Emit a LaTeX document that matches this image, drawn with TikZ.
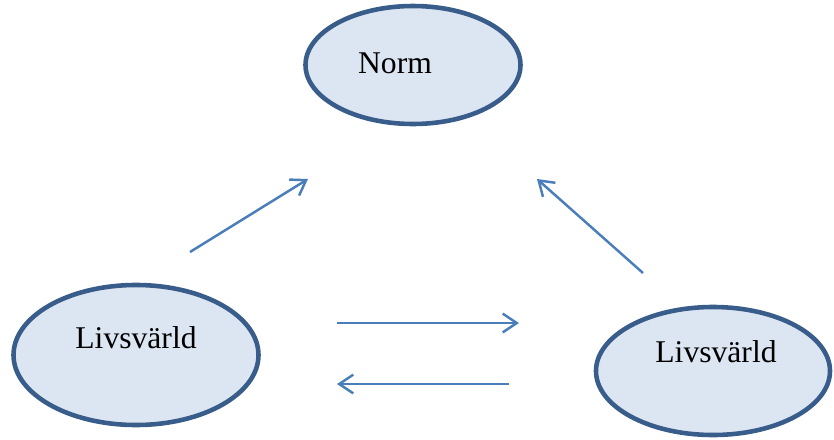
\documentclass[tikz,border=0pt]{standalone}
\usepackage{fontspec}
\setmainfont{Liberation Serif}
\usetikzlibrary{shapes.geometric,arrows.meta}
\definecolor{ellfill}{HTML}{DCE6F2}
\definecolor{elldraw}{HTML}{385D8A}
\definecolor{arrblue}{HTML}{4A7EBB}

\begin{document}
\begin{tikzpicture}[x=0.03cm,y=-0.03cm]
    \tikzstyle{every label}=[font={\fontsize{27}{32}\selectfont}]
    \tikzstyle{world}=[ellipse, draw=elldraw, fill=ellfill, line width=3.9pt]
    \tikzstyle{link}=[draw=arrblue, line width=2.1pt, -{Straight Barb[length=12pt,width=16pt,line width=2.1pt]}]
    \useasboundingbox (0,0) rectangle (834,439);
    \node[world, minimum width=6.45cm, minimum height=3.54cm,
        label={[xshift=-0.54cm,yshift=0.06cm]center:Norm}] (norm) at (413,65) {};
    \node[world, minimum width=7.35cm, minimum height=4.2cm,
        label={[yshift=0.51cm]center:Livsvärld}] (left) at (136,355) {};
    \node[world, minimum width=7.02cm, minimum height=3.84cm,
        label={[xshift=0.09cm,yshift=0.57cm]center:Livsvärld}] (right) at (713,371) {};
    \coordinate (a1) at (190,252); \coordinate (a2) at (308,179);
    \coordinate (b1) at (643,273); \coordinate (b2) at (537,179);
    \coordinate (c1) at (337,323); \coordinate (c2) at (519,323);
    \coordinate (d1) at (509,384); \coordinate (d2) at (337,384);
    \draw[link] (a1) -- (a2);
    \draw[link] (b1) -- (b2);
    \draw[link] (c1) -- (c2);
    \draw[link] (d1) -- (d2);
\end{tikzpicture}
\end{document}
